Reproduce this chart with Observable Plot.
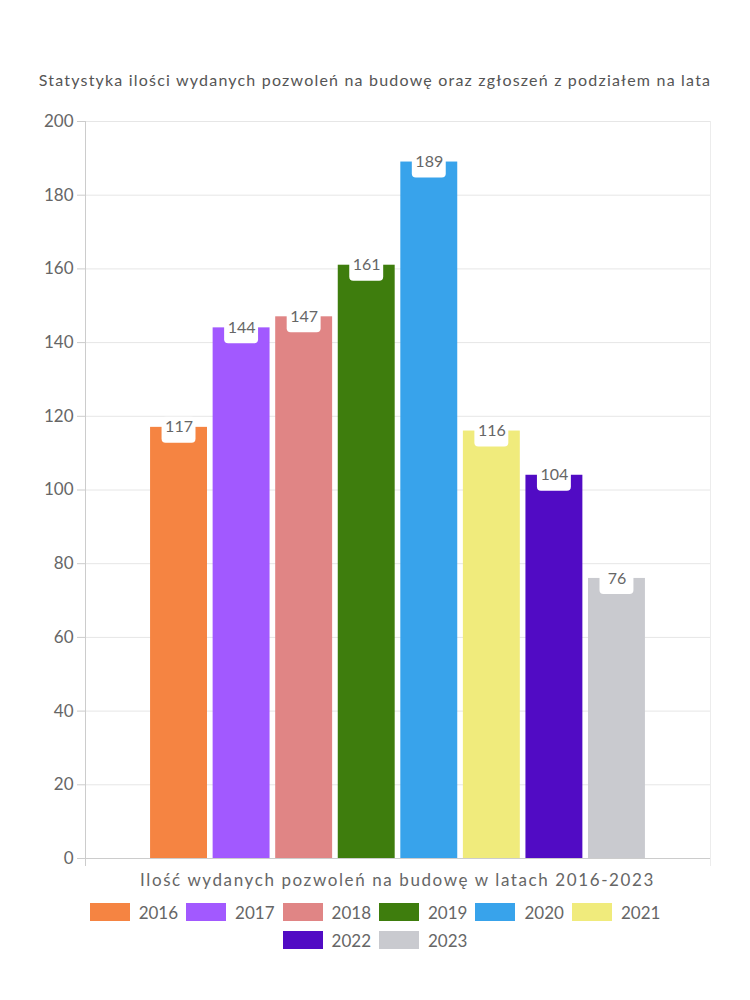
<!DOCTYPE html>
<html><head><meta charset="utf-8">
<script src="https://cdn.jsdelivr.net/npm/d3@7"></script>
<script src="https://cdn.jsdelivr.net/npm/@observablehq/plot@0.6"></script>
<style>
body{margin:0;background:#fff;font-family:Lato,"Open Sans",sans-serif;}
#wrap{position:relative;width:750px;height:1000px;}
#title{position:absolute;top:69px;left:0;width:750px;text-align:center;font-size:16px;letter-spacing:1.2px;color:#555;line-height:22px;}
#chart{position:absolute;top:0;left:0;}
#xlabel{position:absolute;top:869px;left:85px;width:625px;text-align:center;font-size:17px;letter-spacing:1.6px;color:#666;line-height:22px;}
#legend{position:absolute;top:902px;left:75px;width:600px;display:flex;flex-wrap:wrap;justify-content:center;row-gap:8px;}
.item{display:flex;align-items:center;margin:0 4px;height:20px;font-size:17px;color:#666;}
.sw{width:40px;height:18px;margin-right:9px;}
</style></head><body>
<div id="wrap">
<div id="chart"></div>
<div id="title"></div>
<div id="xlabel"></div>
<div id="legend"></div>
</div>
<script>
const years = ["2016","2017","2018","2019","2020","2021","2022","2023"];
const values = [117,144,147,161,189,116,104,76];
const colors = ["#f58442","#a259ff","#e08585","#3e7d0d","#38a3eb","#f0eb7c","#510bc4","#c9cacf"];
const yTicks = [0,20,40,60,80,100,120,140,160,180,200];
const titleText = "Statystyka ilości wydanych pozwoleń na budowę oraz zgłoszeń z podziałem na lata";
const xLabelText = "Ilość wydanych pozwoleń na budowę w latach 2016-2023";

const data = years.map((y,i)=>({year:y, value:values[i]}));

document.getElementById("title").textContent = titleText;
document.getElementById("xlabel").textContent = xLabelText;

const plot = Plot.plot({
  width:750, height:900,
  marginTop:121, marginBottom:42, marginLeft:85, marginRight:40,
  style:{fontFamily:'Lato,"Open Sans",sans-serif', fontSize:"16px", color:"#666", background:"#fff"},
  x:{domain:years, paddingInner:0.09, paddingOuter:1.04, round:false, axis:null},
  y:{domain:[0,200], axis:null},
  color:{domain:years, range:colors},
  marks:[
    Plot.gridY(yTicks,{stroke:"#e6e6e6", strokeOpacity:1}),
    Plot.frame({anchor:"right", stroke:"#ececec", insetBottom:-7}),
    Plot.barY(data,{x:"year", y:"value", fill:"year"}),
    Plot.axisY(yTicks,{tickSize:8, tickPadding:4, stroke:"#cccccc", fill:"#666", fontSize:17, letterSpacing:1, label:null}),
    Plot.frame({anchor:"left", stroke:"#cccccc", insetBottom:-7}),
    Plot.ruleY([0],{stroke:"#cccccc"}),
    Plot.barY(data,{x:"year", y1:"value", y2:"value", fill:"white", insetLeft:11.5, insetRight:11.5, insetTop:-10, insetBottom:-16, rx:4}),
    Plot.text(data,{x:"year", y:"value", text:d=>String(d.value), fill:"#666", fontSize:16, letterSpacing:0.5, dy:0})
  ]
});
document.getElementById("chart").appendChild(plot);

const leg = document.getElementById("legend");
years.forEach((y,i)=>{
  const it = document.createElement("div"); it.className="item";
  const sw = document.createElement("div"); sw.className="sw"; sw.style.background=colors[i];
  const t = document.createElement("span"); t.textContent=y;
  it.appendChild(sw); it.appendChild(t); leg.appendChild(it);
});
</script>
</body></html>
